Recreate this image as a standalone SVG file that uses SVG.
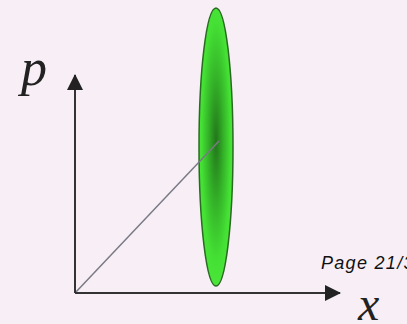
<svg xmlns="http://www.w3.org/2000/svg" width="407" height="324" viewBox="0 0 407 324">
<defs>
<radialGradient id="g" cx="0.5" cy="0.48" r="0.5">
<stop offset="0" stop-color="#22761a"/>
<stop offset="0.45" stop-color="#34b228"/>
<stop offset="0.85" stop-color="#44e034"/>
<stop offset="1" stop-color="#48e438"/>
</radialGradient>
<marker id="ah" viewBox="0 0 16 16" refX="15" refY="8" markerWidth="16" markerHeight="16" markerUnits="userSpaceOnUse" orient="auto">
<path d="M0,0 L16,8 L0,16 Z" fill="#222"/>
</marker>
<style>
.ax{stroke:#333;stroke-width:2;fill:none}
.lbl{font-family:"Liberation Serif",serif;font-style:italic;fill:#222}
</style>
</defs>
<rect width="407" height="324" fill="#f8eff6"/>
<g id="ellipse">
<ellipse cx="216" cy="147" rx="17" ry="139" fill="url(#g)" stroke="#2a6a22" stroke-width="1.5"/>
</g>
<g id="connectors">
<line x1="75" y1="293" x2="219" y2="141" stroke="#7a7a86" stroke-width="1.5"/>
<line class="ax" x1="75" y1="293" x2="75" y2="75" marker-end="url(#ah)"/>
<line class="ax" x1="75" y1="293" x2="340" y2="293" marker-end="url(#ah)"/>
</g>
<g id="label-p"><text class="lbl" x="21" y="85" font-size="52">p</text></g>
<g id="label-x"><text class="lbl" x="358" y="320" font-size="48">x</text></g>
<g id="page"><text x="321" y="269" font-family="Liberation Sans,sans-serif" font-style="italic" font-size="18" letter-spacing="1.3" fill="#111">Page 21/3</text></g>
</svg>
